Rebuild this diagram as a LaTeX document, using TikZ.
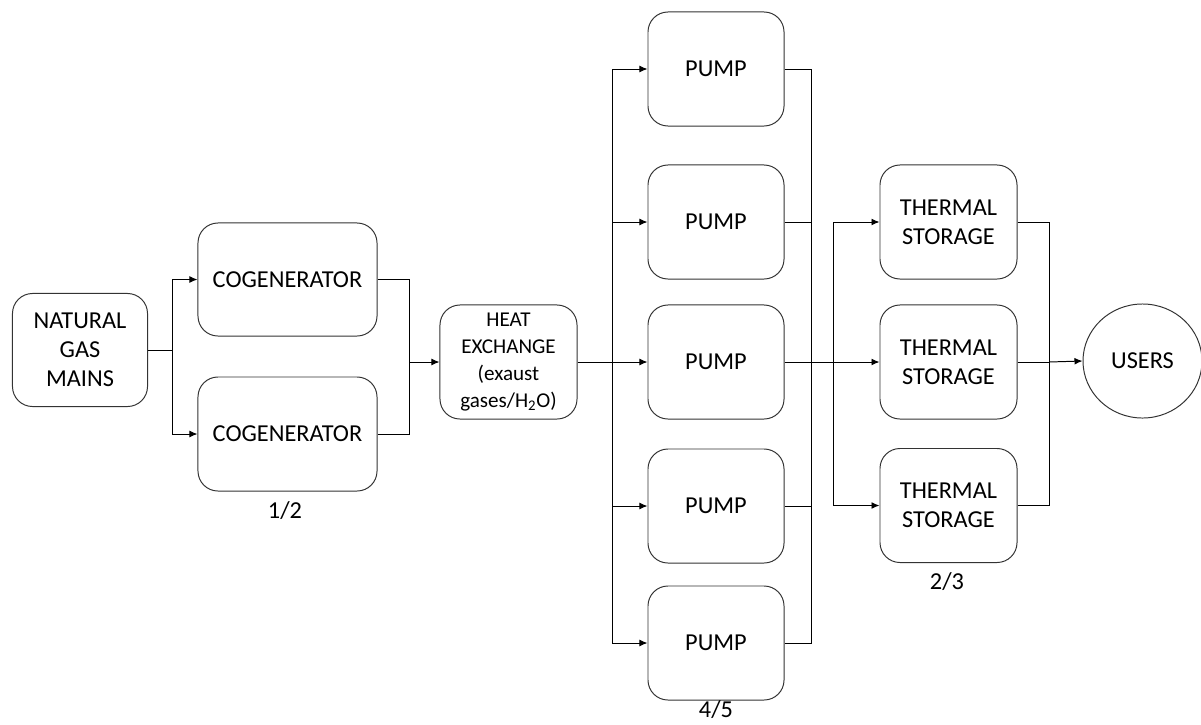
\documentclass[tikz,border=0pt]{standalone}
\usepackage{fontspec}
\setmainfont{Carlito}
\usetikzlibrary{arrows.meta,shapes.geometric}

\begin{document}
\begin{tikzpicture}[x=0.025cm, y=-0.025cm, line width=0.7pt,
    box/.style={draw=black!80, rectangle, rounded corners=0.5cm, align=center, inner sep=0pt,
        font=\fontsize{17.3}{20.6}\selectfont},
    small/.style={box, font=\fontsize{15}{19.2}\selectfont},
    lbl/.style={font=\fontsize{17.3}{20.6}\selectfont, inner sep=0pt},
    flow/.style={-{Latex[length=2mm,width=1.7mm]}}]
    \useasboundingbox (0,0) rectangle (1201,724);

    \node[box, minimum width=3.375cm, minimum height=2.825cm] (gas) at (80,350) {NATURAL\\GAS\\MAINS};
    \node[box, minimum width=4.475cm, minimum height=2.825cm] (cog1) at (287.5,279.5) {COGENERATOR};
    \node[box, minimum width=4.475cm, minimum height=2.85cm] (cog2) at (287.5,434) {COGENERATOR};
    \node[small, minimum width=3.425cm, minimum height=2.85cm] (hx) at (508.5,362) {HEAT\\EXCHANGE\\(exaust\\gases/H\textsubscript{2}O)};

    \foreach \i/\y in {1/69, 2/222, 3/362, 4/506, 5/643}
        \node[box, minimum width=3.4cm, minimum height=2.85cm] (pump\i) at (716,\y) {PUMP};

    \foreach \i/\y in {1/222, 2/362, 3/505.5}
        \node[box, minimum width=3.425cm, minimum height=2.85cm] (tank\i) at (948.5,\y) {THERMAL\\STORAGE};

    \node[box, ellipse, rounded corners=0pt, minimum width=2.975cm, minimum height=2.85cm] (users) at (1142.5,361) {USERS};

    \node[lbl] (cog-n) at (285,511) {1/2};
    \node[lbl] (pump-n) at (716,710) {4/5};
    \node[lbl] (tank-n) at (947,582) {2/3};

    % gas -> cogenerators
    \coordinate (gas-split) at (172,350);
    \draw (gas.east) -- (gas-split);
    \draw[flow] (gas-split) |- (cog1.west);
    \draw[flow] (gas-split) |- (cog2.west);

    % cogenerators -> heat exchange
    \coordinate (cog-join) at (409,362);
    \draw (cog1.east) -| (cog-join);
    \draw (cog2.east) -| (cog-join);
    \draw[flow] (cog-join) -- (hx.west);

    % heat exchange -> pumps
    \coordinate (hx-split) at (612,362);
    \draw (hx.east) -- (hx-split);
    \foreach \i in {1,...,5}
        \draw[flow] (hx-split) |- (pump\i.west);

    % pumps -> storage
    \coordinate (pump-join) at (811,362);
    \coordinate (tank-split) at (833,362);
    \foreach \i in {1,...,5}
        \draw (pump\i.east) -| (pump-join);
    \draw (pump-join) -- (tank-split);
    \foreach \i in {1,2,3}
        \draw[flow] (tank-split) |- (tank\i.west);

    % storage -> users
    \coordinate (tank-join) at (1049,362);
    \foreach \i in {1,2,3}
        \draw (tank\i.east) -| (tank-join);
    \draw[flow] (tank-join) -- (users.west);
\end{tikzpicture}
\end{document}
